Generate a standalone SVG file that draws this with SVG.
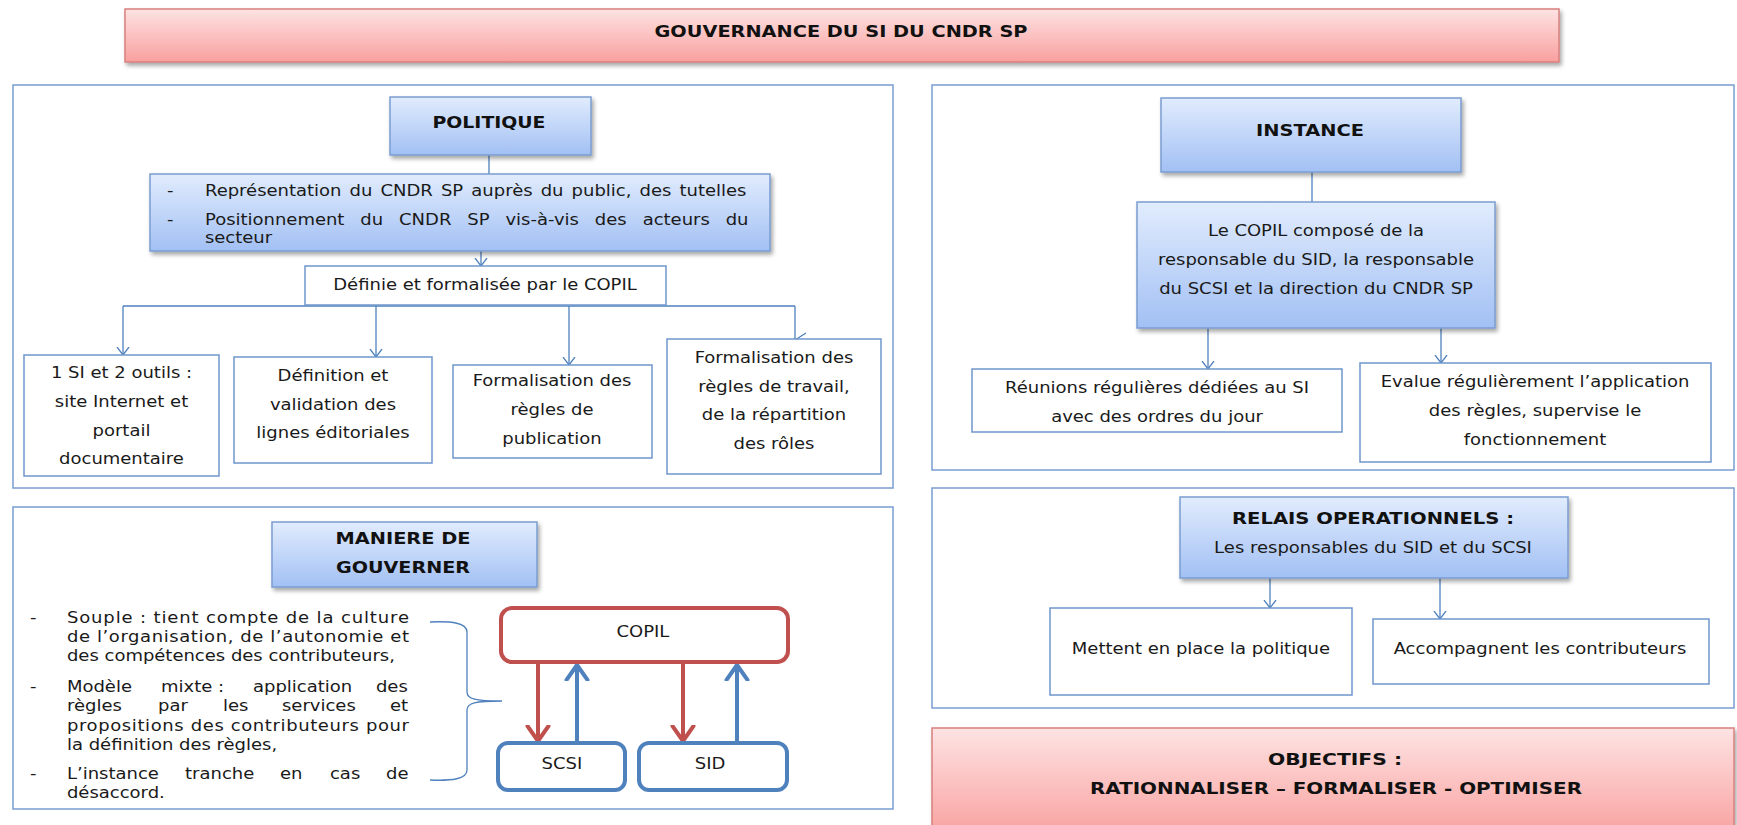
<svg xmlns="http://www.w3.org/2000/svg" width="1737" height="825" viewBox="0 0 1737 825">
<defs>
<linearGradient id="gb" x1="0" y1="0" x2="0" y2="1"><stop offset="0" stop-color="#e1ecfd"/><stop offset="1" stop-color="#a2c0f4"/></linearGradient>
<linearGradient id="gr" x1="0" y1="0" x2="0" y2="1"><stop offset="0" stop-color="#fee3e3"/><stop offset="1" stop-color="#f8a09e"/></linearGradient>
<filter id="sh" x="-5%" y="-10%" width="115%" height="135%"><feDropShadow dx="2" dy="3" stdDeviation="2" flood-color="#000" flood-opacity="0.35"/></filter>
<marker id="ah" markerUnits="userSpaceOnUse" markerWidth="16" markerHeight="16" viewBox="-8 -8 16 16" refX="0" refY="0" orient="auto"><path d="M-8,-6 L0,0 L-8,6" fill="none" stroke="#4f81bd" stroke-width="1.3"/></marker>
<marker id="ar" markerUnits="userSpaceOnUse" markerWidth="32" markerHeight="32" viewBox="-16 -16 32 32" refX="0" refY="0" orient="auto"><path d="M-15,-10.5 L0,0 L-15,10.5" fill="none" stroke="#c0504d" stroke-width="4" stroke-linejoin="round" stroke-linecap="round"/></marker>
<marker id="ab" markerUnits="userSpaceOnUse" markerWidth="32" markerHeight="32" viewBox="-16 -16 32 32" refX="0" refY="0" orient="auto"><path d="M-15,-10.5 L0,0 L-15,10.5" fill="none" stroke="#4f81bd" stroke-width="4" stroke-linejoin="round" stroke-linecap="round"/></marker>
</defs>
<style>
.panel{fill:#fff;stroke:#7a9dd0;stroke-width:1.5}
.gbox{fill:url(#gb);stroke:#7a9dd0;stroke-width:1.5;filter:url(#sh)}
.rbox{fill:url(#gr);stroke:#d9807e;stroke-width:1.5;filter:url(#sh)}
.box{fill:#fff;stroke:#6f96cc;stroke-width:1.5}
.h{font-family:"DejaVu Sans",Verdana,sans-serif;font-weight:bold;font-size:15px;fill:#111;text-anchor:middle}
.sx{transform:scale(1.2,1)}
.t{font-family:"DejaVu Sans",Verdana,sans-serif;font-size:15px;fill:#1a1a1a}
.m{text-anchor:middle}
.con{fill:none;stroke:#4f81bd;stroke-width:1.3}
.redb{fill:#fff;stroke:#c0504d;stroke-width:4}
.blueb{fill:#fff;stroke:#4f81bd;stroke-width:4}
.rl{stroke:#c0504d;stroke-width:4;fill:none}
.bl{stroke:#4f81bd;stroke-width:4;fill:none}
</style>
<rect width="1737" height="825" fill="#fff"/>

<g id="title">
<rect class="rbox" x="125" y="9" width="1434" height="53"/>
<text class="h" x="841" y="37" textLength="373" lengthAdjust="spacingAndGlyphs">GOUVERNANCE DU SI DU CNDR SP</text>
</g>

<g id="panel-politique"><rect class="panel" x="13" y="85" width="880" height="403"/></g>
<g id="panel-maniere"><rect class="panel" x="13" y="507" width="880" height="302"/></g>
<g id="panel-instance"><rect class="panel" x="932" y="85" width="802" height="385"/></g>
<g id="panel-relais"><rect class="panel" x="932" y="488" width="802" height="220"/></g>

<g id="connectors">
<line class="con" x1="489" y1="155" x2="489" y2="174"/>
<line class="con" x1="481" y1="251" x2="481" y2="266" marker-end="url(#ah)"/>
<line class="con" x1="123" y1="306" x2="795" y2="306"/>
<line class="con" x1="123" y1="306" x2="123" y2="355" marker-end="url(#ah)"/>
<line class="con" x1="376" y1="306" x2="376" y2="357" marker-end="url(#ah)"/>
<line class="con" x1="569" y1="306" x2="569" y2="365" marker-end="url(#ah)"/>
<path class="con" d="M795,306 V339 M795,340 L806,333"/>
<line class="con" x1="1312" y1="172" x2="1312" y2="202"/>
<line class="con" x1="1208" y1="328" x2="1208" y2="369" marker-end="url(#ah)"/>
<line class="con" x1="1441" y1="328" x2="1441" y2="363" marker-end="url(#ah)"/>
<line class="con" x1="1270" y1="578" x2="1270" y2="608" marker-end="url(#ah)"/>
<line class="con" x1="1440" y1="578" x2="1440" y2="619" marker-end="url(#ah)"/>
<path class="con" d="M430,622 C452,621 467,623 467,632 L467,692 C467,699 475,701 502,701 C475,701 467,703 467,710 L467,770 C467,779 452,781 430,780"/>
<line class="rl" x1="538" y1="662" x2="538" y2="741" marker-end="url(#ar)"/>
<line class="bl" x1="577" y1="743" x2="577" y2="665" marker-end="url(#ab)"/>
<line class="rl" x1="683" y1="662" x2="683" y2="741" marker-end="url(#ar)"/>
<line class="bl" x1="737" y1="743" x2="737" y2="665" marker-end="url(#ab)"/>
</g>

<g id="politique">
<rect class="gbox" x="390" y="97" width="201" height="58"/>
<text class="h" x="489" y="128" textLength="113" lengthAdjust="spacingAndGlyphs">POLITIQUE</text>
</g>

<g id="politique-desc">
<rect class="gbox" x="150" y="174" width="620" height="77"/>
<g class="sx">
<text class="t" x="139.2" y="196">-</text>
<text class="t" x="170.8" y="196" word-spacing="2">Représentation du CNDR SP auprès du public, des tutelles</text>
<text class="t" x="139.2" y="225">-</text>
<text class="t" x="170.8" y="225" word-spacing="8.5">Positionnement du CNDR SP vis-à-vis des acteurs du</text>
<text class="t" x="170.8" y="243">secteur</text>
</g>
</g>

<g id="definie">
<rect class="box" x="305" y="266" width="361" height="39"/>
<g class="sx"><text class="t m" x="404.2" y="290">Définie et formalisée par le COPIL</text></g>
</g>

<g id="outils">
<rect class="box" x="24" y="355" width="195" height="121"/>
<g class="sx">
<text class="t m" x="101.25" y="378">1 SI et 2 outils :</text>
<text class="t m" x="101.25" y="407">site Internet et</text>
<text class="t m" x="101.25" y="436">portail</text>
<text class="t m" x="101.25" y="464">documentaire</text>
</g>
</g>

<g id="lignes">
<rect class="box" x="234" y="357" width="198" height="106"/>
<g class="sx">
<text class="t m" x="277.5" y="381">Définition et</text>
<text class="t m" x="277.5" y="410">validation des</text>
<text class="t m" x="277.5" y="438">lignes éditoriales</text>
</g>
</g>

<g id="publication">
<rect class="box" x="453" y="365" width="199" height="93"/>
<g class="sx">
<text class="t m" x="460" y="386">Formalisation des</text>
<text class="t m" x="460" y="415">règles de</text>
<text class="t m" x="460" y="444">publication</text>
</g>
</g>

<g id="travail">
<rect class="box" x="667" y="339" width="214" height="135"/>
<g class="sx">
<text class="t m" x="645" y="363">Formalisation des</text>
<text class="t m" x="645" y="392">règles de travail,</text>
<text class="t m" x="645" y="420">de la répartition</text>
<text class="t m" x="645" y="449">des rôles</text>
</g>
</g>

<g id="maniere">
<rect class="gbox" x="272" y="522" width="265" height="65"/>
<text class="h" x="403" y="544" textLength="135" lengthAdjust="spacingAndGlyphs">MANIERE DE</text>
<text class="h" x="403" y="573" textLength="134" lengthAdjust="spacingAndGlyphs">GOUVERNER</text>
</g>

<g id="maniere-text">
<g class="sx">
<text class="t" x="25" y="623">-</text>
<text class="t" x="55.8" y="623" textLength="285" lengthAdjust="spacing">Souple : tient compte de la culture</text>
<text class="t" x="55.8" y="642" textLength="285" lengthAdjust="spacing">de l’organisation, de l’autonomie et</text>
<text class="t" x="55.8" y="661">des compétences des contributeurs,</text>
<text class="t" x="25" y="692">-</text>
<text class="t" y="692"><tspan x="55.8">Modèle</tspan><tspan x="134.2">mixte :</tspan><tspan x="210.8">application</tspan><tspan x="313.3">des</tspan></text>
<text class="t" y="711"><tspan x="55.8">règles</tspan><tspan x="131.7">par</tspan><tspan x="185.8">les</tspan><tspan x="235">services</tspan><tspan x="325">et</tspan></text>
<text class="t" x="55.8" y="731" textLength="285" lengthAdjust="spacing">propositions des contributeurs pour</text>
<text class="t" x="55.8" y="750">la définition des règles,</text>
<text class="t" x="25" y="779">-</text>
<text class="t" y="779"><tspan x="55.8">L’instance</tspan><tspan x="154.2">tranche</tspan><tspan x="233.3">en</tspan><tspan x="275">cas</tspan><tspan x="321.7">de</tspan></text>
<text class="t" x="55.8" y="798">désaccord.</text>
</g>
</g>

<g id="copil">
<rect class="redb" x="501" y="608" width="287" height="54" rx="11"/>
<g class="sx"><text class="t m" x="535.8" y="637">COPIL</text></g>
</g>
<g id="scsi">
<rect class="blueb" x="498" y="743" width="127" height="47" rx="10"/>
<g class="sx"><text class="t m" x="468.3" y="769">SCSI</text></g>
</g>
<g id="sid">
<rect class="blueb" x="639" y="743" width="148" height="47" rx="10"/>
<g class="sx"><text class="t m" x="591.7" y="769">SID</text></g>
</g>

<g id="instance">
<rect class="gbox" x="1161" y="98" width="300" height="74"/>
<text class="h" x="1310" y="136" textLength="108" lengthAdjust="spacingAndGlyphs">INSTANCE</text>
</g>

<g id="copil-compose">
<rect class="gbox" x="1137" y="202" width="358" height="126"/>
<g class="sx">
<text class="t m" x="1096.7" y="236">Le COPIL composé de la</text>
<text class="t m" x="1096.7" y="265">responsable du SID, la responsable</text>
<text class="t m" x="1096.7" y="294">du SCSI et la direction du CNDR SP</text>
</g>
</g>

<g id="reunions">
<rect class="box" x="972" y="369" width="370" height="63"/>
<g class="sx">
<text class="t m" x="964.2" y="393">Réunions régulières dédiées au SI</text>
<text class="t m" x="964.2" y="422">avec des ordres du jour</text>
</g>
</g>

<g id="evalue">
<rect class="box" x="1360" y="363" width="351" height="99"/>
<g class="sx">
<text class="t m" x="1279.2" y="387">Evalue régulièrement l’application</text>
<text class="t m" x="1279.2" y="416">des règles, supervise le</text>
<text class="t m" x="1279.2" y="445">fonctionnement</text>
</g>
</g>

<g id="relais">
<rect class="gbox" x="1180" y="497" width="388" height="81"/>
<text class="h" x="1373" y="524" textLength="282" lengthAdjust="spacingAndGlyphs">RELAIS OPERATIONNELS :</text>
<g class="sx"><text class="t m" x="1144.2" y="553">Les responsables du SID et du SCSI</text></g>
</g>

<g id="mettent">
<rect class="box" x="1050" y="608" width="302" height="87"/>
<g class="sx"><text class="t m" x="1000.8" y="654">Mettent en place la politique</text></g>
</g>

<g id="accompagnent">
<rect class="box" x="1373" y="619" width="336" height="65"/>
<g class="sx"><text class="t m" x="1283.3" y="654">Accompagnent les contributeurs</text></g>
</g>

<g id="objectifs">
<rect class="rbox" x="932" y="728" width="802" height="110"/>
<text class="h" x="1335" y="765" textLength="134" lengthAdjust="spacingAndGlyphs">OBJECTIFS :</text>
<text class="h" x="1336" y="794" textLength="492" lengthAdjust="spacingAndGlyphs">RATIONNALISER – FORMALISER - OPTIMISER</text>
</g>
</svg>
